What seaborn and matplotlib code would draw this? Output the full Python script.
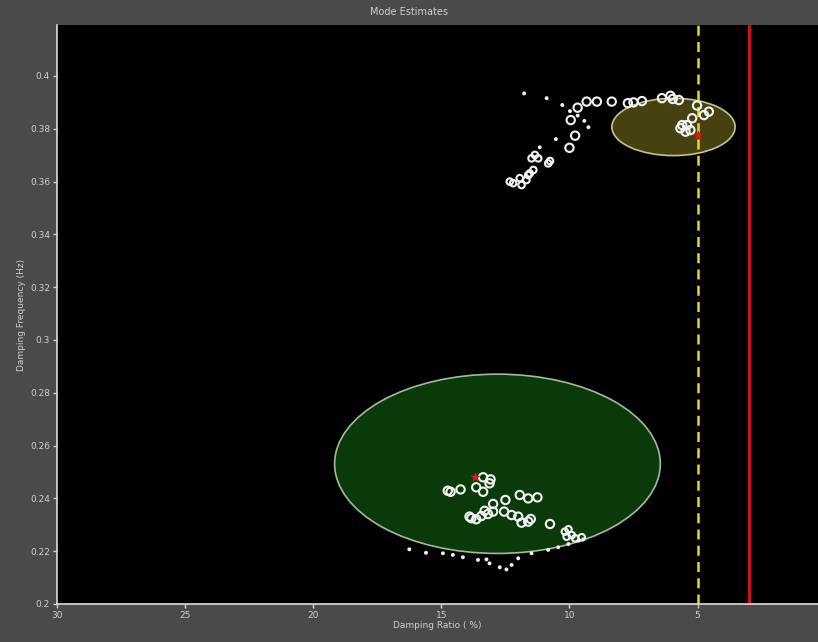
import numpy as np
import pandas as pd
import matplotlib
matplotlib.use("Agg")
import matplotlib.pyplot as plt
import seaborn as sns
from matplotlib.patches import Ellipse

# ---- data ----
# Upper mode (~0.38 Hz)
upper_circle_x = [9.68, 9.33, 8.93, 8.35, 9.95, 9.78, 10.00, 7.72, 7.50, 7.17, 6.39, 6.06,
                  5.97, 5.73, 5.02, 4.75, 4.56, 5.21, 5.60, 5.41, 5.67, 5.47, 5.28]
upper_circle_y = [0.3880, 0.3903, 0.3903, 0.3903, 0.3833, 0.3774, 0.3728, 0.3897, 0.3900,
                  0.3905, 0.3916, 0.3925, 0.3913, 0.3909, 0.3888, 0.3852, 0.3865, 0.3840,
                  0.3814, 0.3814, 0.3802, 0.3789, 0.3795]
upper_small_x = [11.35, 11.48, 11.22, 10.83, 10.76, 12.33, 12.20, 11.94, 11.87, 11.68,
                 11.55, 11.41, 11.61]
upper_small_y = [0.3701, 0.3688, 0.3688, 0.3669, 0.3678, 0.3600, 0.3594, 0.3613, 0.3587,
                 0.3606, 0.3631, 0.3644, 0.3625]
upper_dot_x = [11.77, 10.89, 10.28, 9.98, 9.68, 9.42, 9.26, 10.53, 11.16]
upper_dot_y = [0.3934, 0.3916, 0.3890, 0.3867, 0.3850, 0.3830, 0.3806, 0.3761, 0.3730]

# Lower mode (~0.24 Hz)
lower_circle_x = [13.37, 13.08, 13.12, 13.64, 13.37, 14.75, 14.25, 14.64, 12.50, 11.94,
                  11.61, 11.25, 12.98, 13.31, 12.98, 13.83, 13.64, 13.44, 13.18, 12.55,
                  12.26, 12.00, 11.87, 11.61, 11.51, 10.76, 13.90]
lower_circle_y = [0.2480, 0.2472, 0.2457, 0.2442, 0.2425, 0.2429, 0.2434, 0.2425, 0.2394,
                  0.2413, 0.2400, 0.2404, 0.2379, 0.2353, 0.2350, 0.2325, 0.2321, 0.2333,
                  0.2341, 0.2350, 0.2337, 0.2331, 0.2308, 0.2312, 0.2322, 0.2303, 0.2331]
lower_small_x = [10.18, 10.11, 9.91, 9.78, 9.52, 10.04]
lower_small_y = [0.2274, 0.2255, 0.2261, 0.2249, 0.2253, 0.2283]
lower_dot_x = [16.25, 15.60, 14.94, 14.55, 14.16, 13.57, 13.24, 13.12, 12.72, 12.46, 12.26,
               12.00, 11.48, 10.83, 10.44, 10.04, 9.65, 9.46]
lower_dot_y = [0.2207, 0.2194, 0.2192, 0.2186, 0.2177, 0.2167, 0.2169, 0.2154, 0.2139,
               0.2131, 0.2148, 0.2173, 0.2192, 0.2205, 0.2215, 0.2227, 0.2240, 0.2245]

# Mode centres (red stars)
star_x = [4.98, 13.70]
star_y = [0.3777, 0.2482]

# Confidence ellipses: centre x, centre y, width (%), height (Hz)
ell_cx = [5.94, 12.81]
ell_cy = [0.3807, 0.2531]
ell_w = [4.81, 12.71]
ell_h = [0.0217, 0.0679]
ell_face = ["#46420f", "#0a390a"]
ell_edge = ["#c4c295", "#a5b9a1"]

# Reference lines
limit_dashed = 5.0
limit_solid = 3.0

x_ticks = [30, 25, 20, 15, 10, 5]
y_ticks = [0.2, 0.22, 0.24, 0.26, 0.28, 0.3, 0.32, 0.34, 0.36, 0.38, 0.4]

# ---- figure ----
sns.set_style("dark")
fig_bg = "#4a4a4a"
txt = "#cfcfcf"
fig = plt.figure(figsize=(8.18, 6.42), dpi=100, facecolor=fig_bg)
ax = fig.add_axes([0.0697, 0.0592, 0.9303, 0.9018])
ax.set_facecolor("black")

for cx, cy, w, h, fc, ec in zip(ell_cx, ell_cy, ell_w, ell_h, ell_face, ell_edge):
    ax.add_patch(Ellipse((cx, cy), w, h, facecolor=fc, edgecolor=ec, lw=1.2, zorder=1))

ax.axvline(limit_dashed, color="#e6d630", lw=1.8, ls=(0, (4, 2.5)), zorder=2)
ax.axvline(limit_solid, color="#cc1018", lw=2.2, zorder=2)

dots = pd.DataFrame({"x": upper_dot_x + lower_dot_x, "y": upper_dot_y + lower_dot_y})
circ = pd.DataFrame({"x": upper_circle_x + lower_circle_x, "y": upper_circle_y + lower_circle_y})
small = pd.DataFrame({"x": upper_small_x + lower_small_x, "y": upper_small_y + lower_small_y})
stars = pd.DataFrame({"x": star_x, "y": star_y})

sns.scatterplot(data=dots, x="x", y="y", ax=ax, s=8, color="#f0f0f0", edgecolor="none",
                zorder=3, legend=False)
sns.scatterplot(data=small, x="x", y="y", ax=ax, s=22, facecolor="none", edgecolor="#f2f2f2",
                linewidth=1.5, zorder=4, legend=False)
sns.scatterplot(data=circ, x="x", y="y", ax=ax, s=36, facecolor="none", edgecolor="#f2f2f2",
                linewidth=1.5, zorder=4, legend=False)
sns.scatterplot(data=stars, x="x", y="y", ax=ax, s=40, marker="*", color="#e01818",
                edgecolor="#e01818", zorder=5, legend=False)

ax.set_xlim(30, 0.3)
ax.set_ylim(0.2, 0.4193)
ax.set_xticks(x_ticks)
ax.set_xticklabels([f"{v:g}" for v in x_ticks])
ax.set_yticks(y_ticks)
ax.set_yticklabels([f"{v:g}" for v in y_ticks])
ax.grid(False)

for s in ["top", "right"]:
    ax.spines[s].set_visible(False)
for s in ["left", "bottom"]:
    ax.spines[s].set_visible(True)
    ax.spines[s].set_color("#dcdcdc")
    ax.spines[s].set_linewidth(1.2)

ax.tick_params(axis="both", colors=txt, labelsize=6.5, length=3, width=1, direction="out",
               bottom=True, left=True, pad=2)
ax.set_xlabel("Damping Ratio ( %)", color=txt, fontsize=6.5, labelpad=1)
ax.set_ylabel("Damping Frequency (Hz)", color=txt, fontsize=6.5, labelpad=3)
fig.text(0.5, 0.981, "Mode Estimates", color=txt, fontsize=7, ha="center", va="center")

fig.savefig("out.png", dpi=100, facecolor=fig_bg)
